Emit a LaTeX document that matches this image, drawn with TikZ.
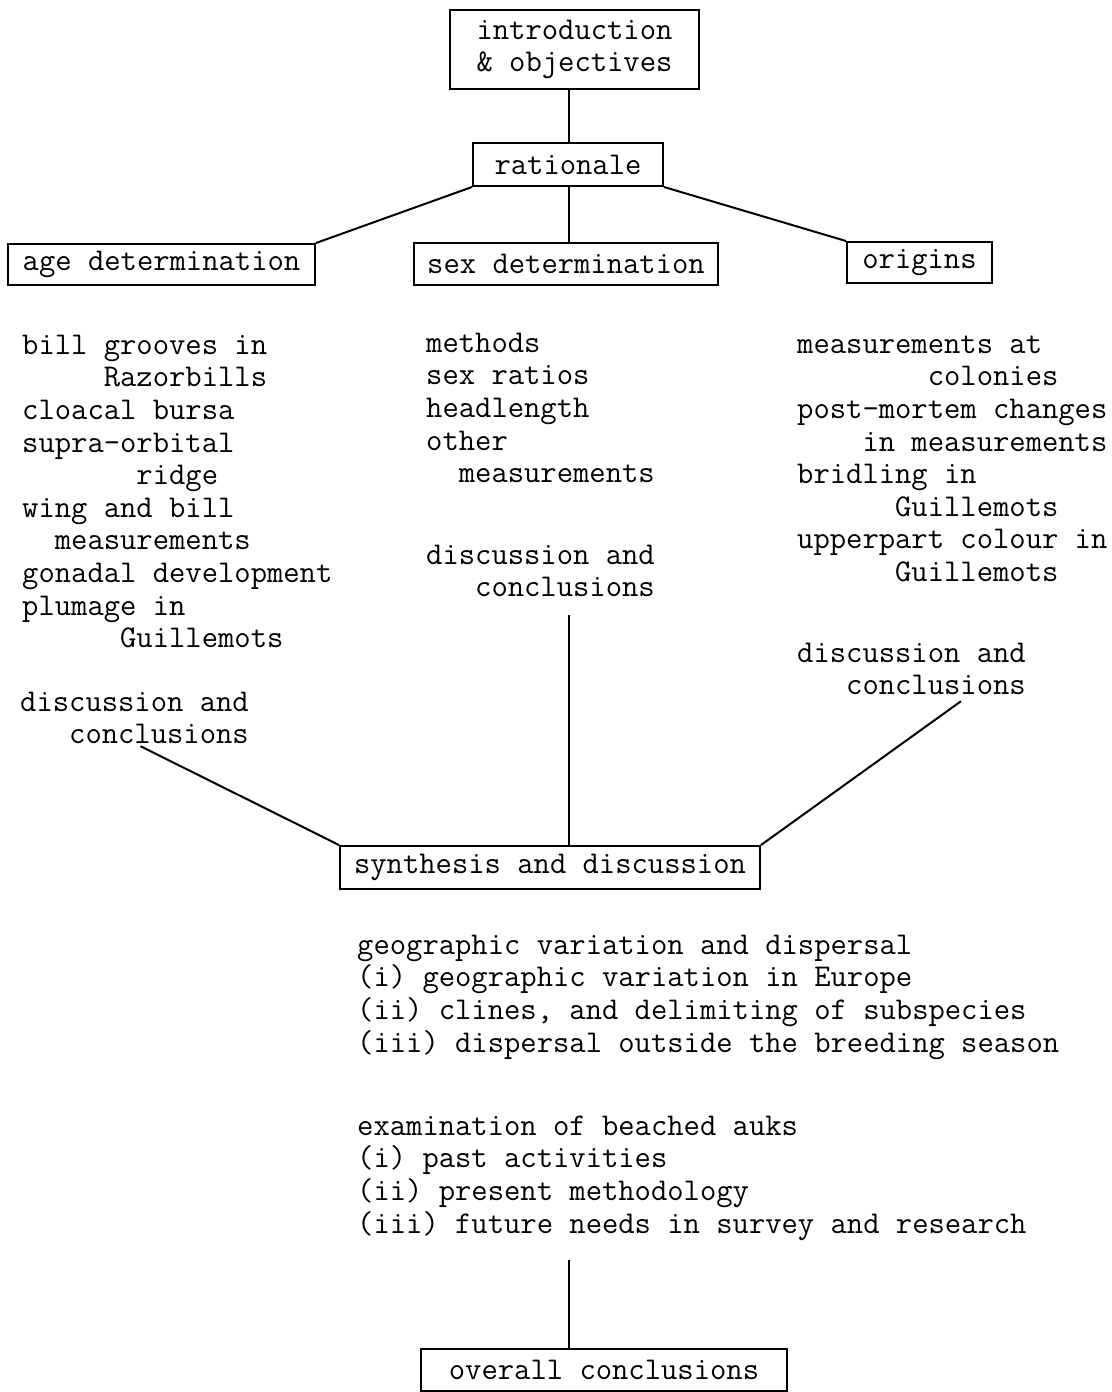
\documentclass[tikz,border=0pt]{standalone}
\usepackage{fontspec}
\usetikzlibrary{calc}
\newcommand\tw{\ttfamily\fontsize{31.7}{32.6}\selectfont\addfontfeatures{FakeBold=0.8}}
\newcommand\ind[1]{\hspace*{#1\fontcharwd\font`\m}}
\tikzset{
  box/.style={draw, line width=2pt, inner sep=0pt, font=\tw, align=center},
  blk/.style={anchor=north west, inner sep=0pt, font=\tw, align=left},
  link/.style={line width=2pt},
}
\begin{document}
\begin{tikzpicture}[x=1pt, y=-1pt]
\useasboundingbox[fill=white] (0,0) rectangle (1111,1392);
\coordinate (axis) at (569,0);
% boxes
\node[box, minimum width=249pt, minimum height=79pt] (intro) at (574.5,49.5) {introduction\\\& objectives};
\node[box, minimum width=190pt, minimum height=43pt] (rat) at (568,164.5) {rationale};
\node[box, minimum width=307pt, minimum height=41pt] (age) at (161.5,264.5) {age determination};
\node[box, minimum width=304pt, minimum height=42pt] (sex) at (566,264) {sex determination};
\node[box, minimum width=145pt, minimum height=41pt] (orig) at (919.5,262.5) {origins};
\node[box, minimum width=420pt, minimum height=43pt] (synth) at (550,867.5) {synthesis and discussion};
\node[box, minimum width=366pt, minimum height=42pt] (overall) at (604,1370) {overall conclusions};
% text blocks
\node[blk] (ageitems) at (22,331.2) {\strut bill grooves in\\
\ind5Razorbills\\
cloacal bursa\\
supra-orbital\\
\ind7ridge\\
wing and bill\\
\ind2measurements\\
gonadal development\\
plumage in\\
\ind6Guillemots};
\node[blk] (ldisc) at (20,688.2) {\strut discussion and\\\ind3conclusions};
\node[blk] (sexitems) at (426,329.2) {\strut methods\\
sex ratios\\
headlength\\
other\\
\ind2measurements};
\node[blk] (sdisc) at (426,541.2) {\strut discussion and\\\ind3conclusions};
\node[blk] (origitems) at (797,330.2) {\strut measurements at\\
\ind8colonies\\
post-mortem changes\\
\ind4in measurements\\
bridling in\\
\ind6Guillemots\\
upperpart colour in\\
\ind6Guillemots};
\node[blk] (rdisc) at (797,639.2) {\strut discussion and\\\ind3conclusions};
\node[blk] (geo) at (357,931.2) {\strut geographic variation and dispersal\\
(i) geographic variation in Europe\\
(ii) clines, and delimiting of subspecies\\
(iii) dispersal outside the breeding season};
\node[blk] (exam) at (357,1112.2) {\strut examination of beached auks\\
(i) past activities\\
(ii) present methodology\\
(iii) future needs in survey and research};
% connectors
\draw[link] (intro.south -| axis) -- (rat.north -| axis);
\draw[link] (rat.south west) -- (age.north east);
\draw[link] (rat.south -| axis) -- (sex.north -| axis);
\draw[link] (rat.south east) -- (orig.north west);
\draw[link] ($(ldisc.south)+(6,2)$) -- (synth.north west);
\draw[link] ($(sdisc.south -| axis)+(0,18)$) -- (synth.north -| axis);
\draw[link] ($(rdisc.south east)+(-65,6)$) -- (synth.north east);
\draw[link] ($(exam.south -| axis)+(0,20)$) -- (overall.north -| axis);
\end{tikzpicture}
\end{document}
